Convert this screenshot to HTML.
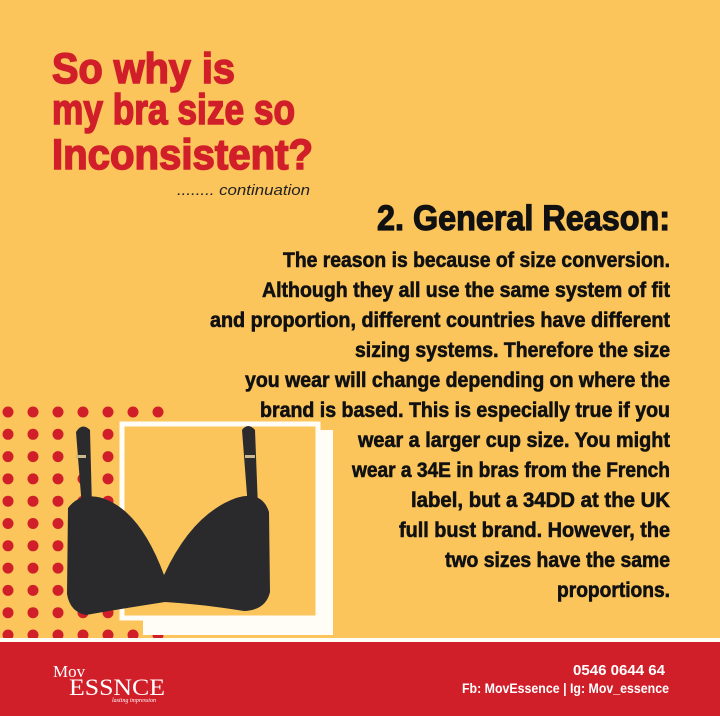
<!DOCTYPE html>
<html><head><meta charset="utf-8"><style>
html,body{margin:0;padding:0;width:720px;height:716px;overflow:hidden;background:#fbc55c}
svg{display:block}
.t{font-family:"Liberation Sans",sans-serif;font-weight:bold}
</style></head><body>
<svg width="720" height="716" viewBox="0 0 720 716">
<rect x="0" y="0" width="720" height="716" fill="#fbc55c"/>
<g id="dots"></g>
<rect x="143" y="430" width="190" height="205" fill="#fffdf6"/>
<rect x="122" y="424" width="196" height="194" fill="#fbc55c" stroke="#fffdf6" stroke-width="5"/>
<g>
 <path d="M76,432 Q82,422 90,430 L92,508 L82,508 Z" fill="#2b2b2e"/>
 <path d="M242,430 Q248,422 255,430 L258,508 L248,508 Z" fill="#2b2b2e"/>
 <path d="M68,508 Q80,492 102,498 Q140,510 164,575 Q192,514 236,498 Q262,490 269,512 L270,592 Q266,610 244,611 Q200,604 165,602 Q120,609 86,615 Q70,612 67,594 Z" fill="#2a2a2d"/>
 <rect x="76" y="455" width="10" height="3" fill="#c9b88a"/>
 <rect x="245" y="455" width="10" height="3" fill="#c9b88a"/>
</g>
<rect x="0" y="638" width="720" height="4" fill="#fffdf6"/>
<rect x="0" y="642" width="720" height="74" fill="#d11f2a"/>
<g class="t" fill="#d11f2a" stroke="#d11f2a" stroke-width="1.6" font-size="43">
 <text x="52" y="83" textLength="183" lengthAdjust="spacingAndGlyphs">So why is</text>
 <text x="52" y="124" textLength="243" lengthAdjust="spacingAndGlyphs">my bra size so</text>
 <text x="52" y="169" textLength="261" lengthAdjust="spacingAndGlyphs">Inconsistent?</text>
</g>
<text x="177" y="195" font-family="Liberation Sans,sans-serif" font-style="italic" font-size="15" fill="#222" textLength="133" lengthAdjust="spacingAndGlyphs">........ continuation</text>
<text class="t" x="377" y="230" font-size="35" fill="#111" stroke="#111" stroke-width="1.2" textLength="293" lengthAdjust="spacingAndGlyphs">2. General Reason:</text>
<g class="t" font-size="21" fill="#111" stroke="#111" stroke-width="0.6" text-anchor="end" id="body"></g>
<g fill="#fff">
 <text x="53" y="677" font-family="Liberation Serif,serif" font-size="17">Mov</text>
 <text x="69" y="695" font-family="Liberation Serif,serif" font-size="23" textLength="96" lengthAdjust="spacingAndGlyphs">ESSNCE</text>
 <text x="112" y="702" font-family="Liberation Serif,serif" font-style="italic" font-size="6">lasting impression</text>
</g>
<text class="t" x="665" y="675" font-size="15" fill="#fff" text-anchor="end" textLength="92" lengthAdjust="spacingAndGlyphs">0546 0644 64</text>
<text class="t" x="669" y="693" font-size="14" fill="#fff" text-anchor="end" textLength="207" lengthAdjust="spacingAndGlyphs">Fb: MovEssence | Ig: Mov_essence</text>
</svg>
<script>
const lines=["The reason is because of size conversion.","Although they all use the same system of fit","and proportion, different countries have different","sizing systems. Therefore the size","you wear will change depending on where the","brand is based. This is especially true if you","wear a larger cup size. You might","wear a 34E in bras from the French","label, but a 34DD at the UK","full bust brand. However, the","two sizes have the same","proportions."];
const starts=[283,262,210,355,245,260,358,352,411,399,445,557];
const NS="http://www.w3.org/2000/svg";
const body=document.getElementById('body');
lines.forEach((s,i)=>{const t=document.createElementNS(NS,'text');
t.setAttribute('x',670);t.setAttribute('y',267+30*i);
t.setAttribute('textLength',670-starts[i]);t.setAttribute('lengthAdjust','spacingAndGlyphs');


t.textContent=s;body.appendChild(t);});
const dots=document.getElementById('dots');
const xs=[8,33,58,83,108,133,158];
for(let r=0;r<11;r++){const n=(r===0||r===10)?7:5;
 for(let c=0;c<n;c++){const d=document.createElementNS(NS,'circle');
 d.setAttribute('cx',xs[c]);d.setAttribute('cy',412+22.3*r);d.setAttribute('r',5.5);d.setAttribute('fill','#d11f2a');
 
 
 dots.appendChild(d);}}
</script>
</body></html>
